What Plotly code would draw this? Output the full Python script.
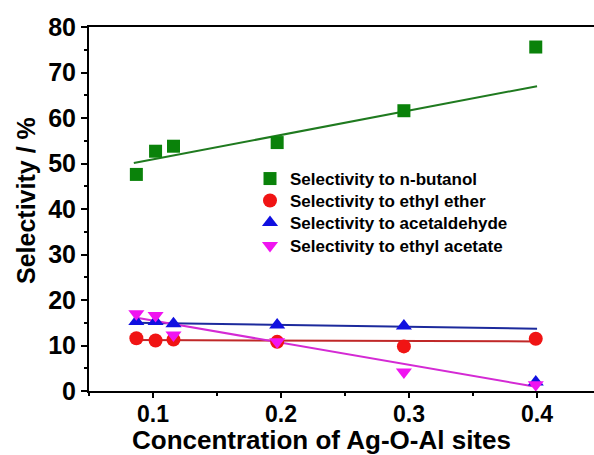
import plotly.graph_objects as go

# ---- data ----
conc = [0.087, 0.102, 0.116, 0.197, 0.296, 0.399]
butanol = [47.6, 52.7, 53.8, 54.6, 61.6, 75.6]
ether = [11.6, 11.1, 11.3, 10.8, 9.8, 11.5]
acetaldehyde = [15.3, 15.3, 14.8, 14.5, 14.3, 2.0]
ethyl_acetate = [17.0, 16.6, 12.3, 10.8, 4.2, 1.4]

# linear fit lines (end points)
fit_x = [0.085, 0.4]
fit_butanol = [50.1, 67.0]
fit_ether = [11.2, 10.9]
fit_acetaldehyde = [15.0, 13.7]
fit_ethyl_acetate = [16.2, 0.9]

names = ["Selectivity to n-butanol", "Selectivity to ethyl ether",
         "Selectivity to acetaldehyde", "Selectivity to ethyl acetate"]

x_ticks = [0.1, 0.2, 0.3, 0.4]
x_ticktext = ["0.1", "0.2", "0.3", "0.4"]
y_ticks = [0, 10, 20, 30, 40, 50, 60, 70, 80]

FONT = "Liberation Sans, Arial, sans-serif"

fig = go.Figure()

fit_specs = [
    (fit_butanol, "#1f7a1f"),
    (fit_ether, "#c02828"),
    (fit_acetaldehyde, "#1c2a9c"),
    (fit_ethyl_acetate, "#d42ad4"),
]
for fy, col in fit_specs:
    fig.add_trace(go.Scatter(x=fit_x, y=fy, mode="lines",
                             line=dict(color=col, width=2),
                             showlegend=False, hoverinfo="skip"))

series = [
    (butanol, "square", "#0a820a", 13),
    (ether, "circle", "#f01414", 14),
    (acetaldehyde, "triangle-up", "#1010e0", 14),
    (ethyl_acetate, "triangle-down", "#f014f0", 14),
]
legend_ids = ["legend", "legend2", "legend3", "legend4"]
for (vals, sym, col, sz), nm, lg in zip(series, names, legend_ids):
    fig.add_trace(go.Scatter(x=conc, y=vals, mode="markers", name=nm,
                             legend=lg,
                             marker=dict(symbol=sym, color=col, size=sz,
                                         line=dict(width=0))))

W, H = 594, 455
ml, mr, mt, mb = 89, 0, 27, 64
pw = W - ml - mr
ph = H - mt - mb

def px_to_paper_x(px):
    return (px - ml) / pw

def px_to_paper_y(py):
    return (H - mb - py) / ph

row_centers = [179, 201, 223, 246]
legend_font = dict(size=17, family=FONT, color="black", weight="bold")
legend_layouts = {}
for lg, yc in zip(legend_ids, row_centers):
    legend_layouts[lg] = dict(x=px_to_paper_x(250), y=px_to_paper_y(yc),
                              xanchor="left", yanchor="middle",
                              bgcolor="rgba(0,0,0,0)", borderwidth=0,
                              font=legend_font, itemwidth=30)

fig.update_layout(
    width=W, height=H,
    margin=dict(l=ml, r=mr, t=mt, b=mb, pad=0),
    paper_bgcolor="white", plot_bgcolor="white",
    font=dict(family=FONT, color="black"),
    showlegend=True,
    **legend_layouts,
    xaxis=dict(range=[0.05, 0.4445], tickvals=x_ticks, ticktext=x_ticktext,
               showgrid=False, zeroline=False,
               showline=True, linecolor="black", linewidth=2, mirror=True,
               ticks="outside", ticklen=5, tickwidth=2, tickcolor="black",
               ticklabelstandoff=-4,
               tickfont=dict(size=23, family=FONT, weight="bold"),
               minor=dict(dtick=0.05, tick0=0.05, ticks="outside", ticklen=3,
                          tickwidth=2, tickcolor="black", showgrid=False)),
    yaxis=dict(range=[0, 80], tickvals=y_ticks,
               showgrid=False, zeroline=False,
               showline=True, linecolor="black", linewidth=2,
               ticks="outside", ticklen=6, tickwidth=2, tickcolor="black",
               tickfont=dict(size=25, family=FONT, weight="bold"),
               minor=dict(dtick=5, tick0=0, ticks="outside", ticklen=3,
                          tickwidth=2, tickcolor="black", showgrid=False)),
    annotations=[
        dict(text="Concentration of Ag-O-Al sites", xref="paper", yref="paper",
             x=px_to_paper_x(321), y=px_to_paper_y(439.5),
             xanchor="center", yanchor="middle", showarrow=False,
             font=dict(size=26, family=FONT, weight="bold")),
        dict(text="Selectivity / %", xref="paper", yref="paper",
             x=px_to_paper_x(26), y=px_to_paper_y(201), textangle=-90,
             xanchor="center", yanchor="middle", showarrow=False,
             font=dict(size=25, family=FONT, weight="bold")),
    ],
)

fig.write_html("out.html", config={"displayModeBar": False},
               post_script="document.body.style.margin='0';document.body.style.overflow='hidden';")
